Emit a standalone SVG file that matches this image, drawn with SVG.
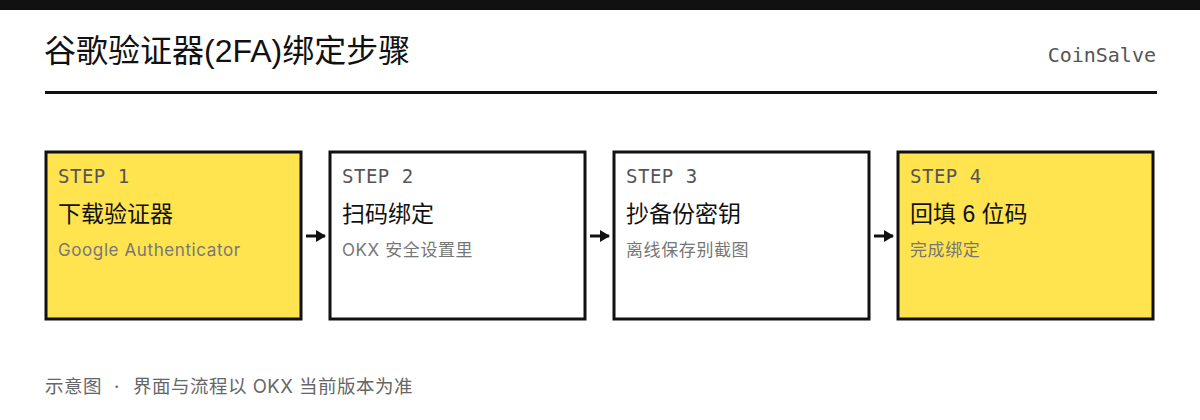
<svg xmlns="http://www.w3.org/2000/svg" width="1200" height="420" viewBox="0 0 1200 420">
<style>
.title{font-family:"Liberation Sans","Noto Sans CJK SC",sans-serif;font-size:32px;fill:#111}
.brand{font-family:"DejaVu Sans Mono",monospace;font-size:20px;fill:#555}
.box{stroke:#111;stroke-width:3}
.y{fill:#FFE34F}
.w{fill:#fff}
.step{font-family:"DejaVu Sans Mono",monospace;font-size:19px;fill:#555;letter-spacing:0.5px}
.head{font-family:"Liberation Sans","Noto Sans CJK SC",sans-serif;font-size:23px;fill:#111}
.sub{font-family:Inter,"Noto Sans CJK SC",sans-serif;font-size:17px;fill:#777;letter-spacing:0.6px}
.foot{font-family:Inter,"Noto Sans CJK SC",sans-serif;font-size:18.5px;fill:#666;letter-spacing:0.5px}
.conn{stroke:#111;stroke-width:3;fill:none}
</style>
<defs>
<marker id="ah" viewBox="0 0 10 12" refX="9" refY="6" markerWidth="3.4" markerHeight="4.2" orient="auto" markerUnits="strokeWidth">
<path d="M0,0 L10,6 L0,12 Z" fill="#111"/>
</marker>
</defs>
<rect x="0" y="0" width="1200" height="10" fill="#111"/>
<text class="title" x="44" y="62">谷歌验证器(2FA)绑定步骤</text>
<text class="brand" x="1156" y="62" text-anchor="end">CoinSalve</text>
<rect x="45" y="91" width="1112" height="3" fill="#111"/>

<g id="step1">
<rect class="box y" x="46" y="152" width="255" height="167"/>
<text class="step" x="58" y="183">STEP 1</text>
<text class="head" x="58" y="222">下载验证器</text>
<text class="sub" x="58" y="256">Google Authenticator</text>
</g>
<g id="step2">
<rect class="box w" x="330" y="152" width="255" height="167"/>
<text class="step" x="342" y="183">STEP 2</text>
<text class="head" x="342" y="222">扫码绑定</text>
<text class="sub" x="342" y="256">OKX 安全设置里</text>
</g>
<g id="step3">
<rect class="box w" x="614" y="152" width="255" height="167"/>
<text class="step" x="626" y="183">STEP 3</text>
<text class="head" x="626" y="222">抄备份密钥</text>
<text class="sub" x="626" y="256">离线保存别截图</text>
</g>
<g id="step4">
<rect class="box y" x="898" y="152" width="255" height="167"/>
<text class="step" x="910" y="183">STEP 4</text>
<text class="head" x="910" y="222">回填 6 位码</text>
<text class="sub" x="910" y="256">完成绑定</text>
</g>

<g id="connectors">
<line class="conn" x1="306" y1="236" x2="325" y2="236" marker-end="url(#ah)"/>
<line class="conn" x1="590" y1="236" x2="609" y2="236" marker-end="url(#ah)"/>
<line class="conn" x1="874" y1="236" x2="893" y2="236" marker-end="url(#ah)"/>
</g>

<text class="foot" y="393"><tspan x="45">示意图</tspan><tspan x="117" text-anchor="middle">·</tspan><tspan x="133">界面与流程以 OKX 当前版本为准</tspan></text>
</svg>
